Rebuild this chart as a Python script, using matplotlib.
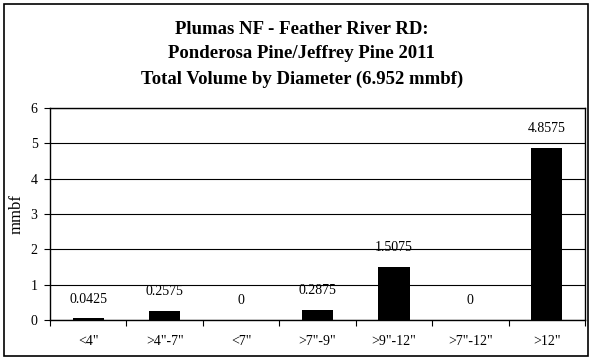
import matplotlib.pyplot as plt
import numpy as np
from matplotlib.patches import Rectangle

# Dados do grafico
categorias = ['<4"', '>4"-7"', '<7"', '>7"-9"', '>9"-12"', '>7"-12"', '>12"']
volumes = [0.0425, 0.2575, 0, 0.2875, 1.5075, 0, 4.8575]
rotulos = ['0.0425', '0.2575', '0', '0.2875', '1.5075', '0', '4.8575']

plt.rcParams['font.family'] = ['Liberation Serif', 'DejaVu Serif']

fig = plt.figure(figsize=(5.92, 3.6), dpi=100)
ax = fig.add_axes([50 / 592, 1 - 320 / 360, (585 - 50) / 592, (320 - 108) / 360])

x = np.arange(len(categorias))
ax.bar(x, volumes, width=0.41, color='black', zorder=3)

for xi, v, r in zip(x, volumes, rotulos):
    ax.annotate(r, (xi, v), xytext=(0, 14), textcoords='offset points',
                ha='center', va='center', fontsize=10)

ax.set_xlim(-0.5, len(categorias) - 0.5)
ax.set_ylim(0, 6)
ax.set_yticks(range(0, 7))
ax.grid(axis='y', color='black', linewidth=0.8, zorder=0)

# ticks nas fronteiras das categorias
ax.set_xticks(np.arange(-0.5, len(categorias)))
ax.set_xticklabels([])
ax.set_xticks(x, minor=True)
ax.set_xticklabels(categorias, minor=True, fontsize=10)
ax.tick_params(axis='x', which='minor', length=0, pad=11)
ax.tick_params(axis='x', which='major', length=4, direction='out')
ax.tick_params(axis='y', length=4, labelsize=10, pad=5)
ax.set_ylabel('mmbf', fontsize=12, labelpad=4)

for s in ax.spines.values():
    s.set_linewidth(1)

fig.text(0.51, 1 - 29 / 360, 'Plumas NF - Feather River RD:', ha='center', va='center',
         fontsize=13.5, fontweight='bold')
fig.text(0.51, 1 - 54 / 360, 'Ponderosa Pine/Jeffrey Pine 2011', ha='center', va='center',
         fontsize=13.5, fontweight='bold')
fig.text(0.51, 1 - 79 / 360, 'Total Volume by Diameter (6.952 mmbf)', ha='center', va='center',
         fontsize=13.5, fontweight='bold')

# borda externa
fig.patches.append(Rectangle((4 / 592, 4 / 360), 584 / 592, 352 / 360, transform=fig.transFigure,
                             fill=False, edgecolor='black', linewidth=1.2))

fig.savefig('out.png', dpi=100)
